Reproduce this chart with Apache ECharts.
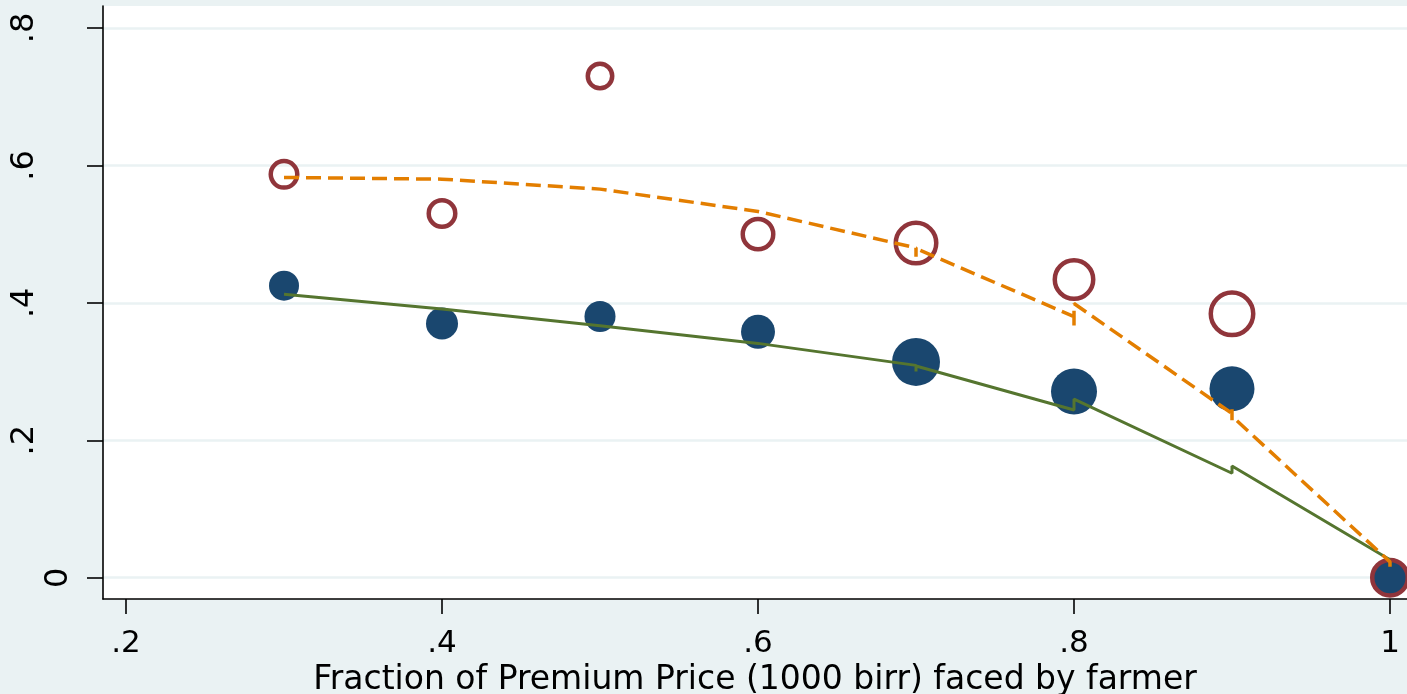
<!DOCTYPE html>
<html>
<head>
<meta charset="utf-8">
<script src="https://cdn.jsdelivr.net/npm/echarts@6/dist/echarts.min.js"></script>
<style>
html,body{margin:0;padding:0;background:#eaf2f3;}
#chart{width:1407px;height:694px;}
</style>
</head>
<body>
<div id="chart"></div>
<script>
// ---- data ----
const xValues = [0.3, 0.4, 0.5, 0.6, 0.7, 0.8, 0.9, 1.0];
const filledY = [0.425, 0.370, 0.380, 0.358, 0.314, 0.271, 0.275, 0.0];
const filledWeight = [1.00, 1.14, 1.07, 1.28, 2.56, 2.35, 2.25, 1.35];
const hollowY = [0.587, 0.530, 0.730, 0.500, 0.487, 0.434, 0.384, 0.0];
const hollowWeight = [1.07, 1.07, 0.93, 1.36, 2.25, 2.05, 2.45, 1.78];

const solidFitX = [0.3, 0.4, 0.5, 0.6, 0.7, 0.7, 0.7, 0.8, 0.8, 0.9, 0.9, 1.0];
const solidFitY = [0.4125, 0.391, 0.3665, 0.341, 0.309, 0.300, 0.308, 0.244, 0.260, 0.152, 0.1625, 0.026];

const dashFitX = [0.3, 0.4, 0.5, 0.6, 0.7, 0.7, 0.7, 0.8, 0.8, 0.8, 0.9, 0.9, 0.9, 0.9, 1.0, 1.0];
const dashFitY = [0.5825, 0.580, 0.5655, 0.533, 0.480, 0.467, 0.479, 0.380, 0.367, 0.399, 0.239, 0.246, 0.229, 0.235, 0.023, 0.012];

const xTicks = [0.2, 0.4, 0.6, 0.8, 1.0];
const xTickLabels = ['.2', '.4', '.6', '.8', '1'];
const yTicks = [0, 0.2, 0.4, 0.6, 0.8];
const yTickLabels = ['0', '.2', '.4', '.6', '.8'];
const xTitle = 'Fraction of Premium Price (1000 birr) faced by farmer';

// ---- chart ----
const FONT = 'DejaVu Sans';
const NAVY = '#1a476f', MAROON = '#90353b', GREEN = '#55752f', ORANGE = '#e37e00';
const BASE_D = 30, RING_W = 4.5;

function lookup(ticks, labels, v) {
  const i = ticks.findIndex(t => Math.abs(t - v) < 1e-9);
  return i >= 0 ? labels[i] : '';
}
function zip(xs, ys) { return xs.map((x, i) => [x, ys[i]]); }

const chart = echarts.init(document.getElementById('chart'), null, {renderer: 'canvas'});
chart.setOption({
  animation: false,
  backgroundColor: '#eaf2f3',
  grid: {left: 103, right: 0, top: 6, bottom: 95, outerBoundsMode: 'none', containLabel: false,
    show: true, backgroundColor: '#ffffff', borderWidth: 0},
  xAxis: {
    type: 'value', min: 0.18544, max: 1.01076,
    axisLine: {show: true, onZero: false, lineStyle: {color: '#000', width: 1.6}},
    axisTick: {show: true, length: 15, customValues: xTicks, lineStyle: {color: '#000', width: 1.6}},
    axisLabel: {customValues: xTicks, margin: 29, color: '#000', fontFamily: FONT, fontSize: 31,
      formatter: v => lookup(xTicks, xTickLabels, v)},
    splitLine: {show: false},
    name: xTitle, nameLocation: 'middle', nameGap: 55,
    nameTextStyle: {color: '#000', fontFamily: FONT, fontSize: 33}
  },
  yAxis: {
    type: 'value', min: -0.031, max: 0.832,
    axisLine: {show: true, onZero: false, lineStyle: {color: '#000', width: 1.6}},
    axisTick: {show: true, length: 16, customValues: yTicks, lineStyle: {color: '#000', width: 1.6}},
    axisLabel: {customValues: yTicks, rotate: 90, align: 'center', verticalAlign: 'middle', margin: 78,
      color: '#000', fontFamily: FONT, fontSize: 32,
      formatter: v => { const s = lookup(yTicks, yTickLabels, v); return v === 0 ? '{z|' + s + '}' : '{n|' + s + '}'; },
      rich: {
        n: {color: '#000', fontFamily: FONT, fontSize: 32},
        z: {color: '#000', fontFamily: FONT, fontSize: 32, padding: [67, 0, 0, 0]}
      }},
    splitLine: {show: true, lineStyle: {color: '#eaf2f3', width: 2.5}}
  },
  series: [
    {
      type: 'scatter', name: 'filled',
      data: zip(xValues, filledY),
      symbol: 'circle',
      symbolSize: (val, p) => BASE_D * Math.sqrt(filledWeight[p.dataIndex]),
      itemStyle: {color: NAVY, opacity: 1}
    },
    {
      type: 'scatter', name: 'hollow',
      data: zip(xValues, hollowY),
      symbol: 'circle',
      symbolSize: (val, p) => BASE_D * Math.sqrt(hollowWeight[p.dataIndex]) - RING_W,
      itemStyle: {color: 'rgba(255,255,255,0)', borderColor: MAROON, borderWidth: RING_W, opacity: 1}
    },
    {
      type: 'line', name: 'fit1',
      data: zip(solidFitX, solidFitY),
      showSymbol: false, symbol: 'none',
      lineStyle: {color: GREEN, width: 3}
    },
    {
      type: 'line', name: 'fit2',
      data: zip(dashFitX, dashFitY),
      showSymbol: false, symbol: 'none',
      lineStyle: {color: ORANGE, width: 3.5, type: [15, 7]}
    }
  ]
});
</script>
</body>
</html>
